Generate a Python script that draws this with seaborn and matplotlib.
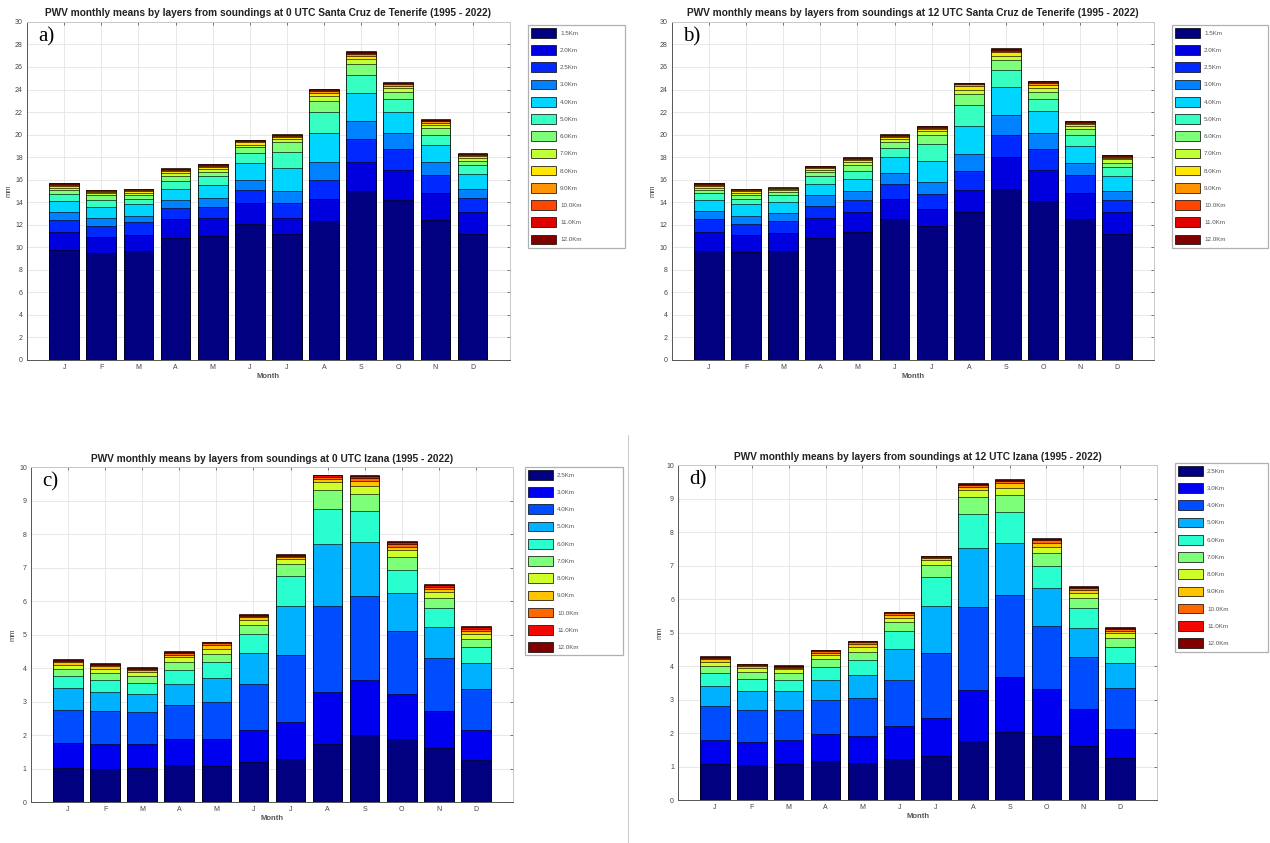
import numpy as np
import pandas as pd
import seaborn as sns
import matplotlib.pyplot as plt
from matplotlib.patches import Patch, Rectangle
from matplotlib.lines import Line2D

# month names (unique for the categorical axis) and the single-letter tick labels
month_names = ["Jan", "Feb", "Mar", "Apr", "May", "Jun",
               "Jul", "Aug", "Sep", "Oct", "Nov", "Dec"]
month_letters = ["J", "F", "M", "A", "M", "J", "J", "A", "S", "O", "N", "D"]

layers_sc = ["1.5Km", "2.0Km", "2.5Km", "3.0Km", "4.0Km", "5.0Km", "6.0Km",
             "7.0Km", "8.0Km", "9.0Km", "10.0Km", "11.0Km", "12.0Km"]
layers_iz = ["2.5Km", "3.0Km", "4.0Km", "5.0Km", "6.0Km", "7.0Km",
             "8.0Km", "9.0Km", "10.0Km", "11.0Km", "12.0Km"]

# cumulative PWV (mm) at the top of each layer, one row per month
tops_sc_00 = [
    [9.8, 11.4, 12.4, 13.1, 14.1, 14.7, 15.1, 15.3, 15.45, 15.55, 15.62, 15.67, 15.7],
    [9.5, 10.9, 11.9, 12.6, 13.6, 14.2, 14.6, 14.8, 14.9, 15.0, 15.05, 15.08, 15.1],
    [9.7, 11.1, 12.2, 12.8, 13.8, 14.3, 14.6, 14.85, 15.0, 15.08, 15.13, 15.17, 15.2],
    [10.8, 12.5, 13.5, 14.2, 15.2, 15.9, 16.3, 16.55, 16.75, 16.85, 16.92, 16.97, 17.0],
    [11.0, 12.6, 13.6, 14.4, 15.5, 16.3, 16.7, 16.95, 17.15, 17.25, 17.32, 17.37, 17.4],
    [12.1, 13.9, 15.1, 16.0, 17.5, 18.4, 18.9, 19.1, 19.3, 19.4, 19.47, 19.52, 19.55],
    [11.2, 12.6, 13.9, 15.0, 17.0, 18.5, 19.3, 19.6, 19.8, 19.9, 19.95, 20.0, 20.05],
    [12.3, 14.3, 16.0, 17.6, 20.1, 22.0, 23.0, 23.4, 23.7, 23.85, 23.95, 24.02, 24.08],
    [15.0, 17.6, 19.6, 21.2, 23.7, 25.3, 26.3, 26.7, 27.0, 27.15, 27.25, 27.32, 27.38],
    [14.2, 16.9, 18.7, 20.1, 22.0, 23.2, 23.8, 24.1, 24.35, 24.48, 24.56, 24.62, 24.67],
    [12.4, 14.8, 16.4, 17.6, 19.1, 20.0, 20.6, 20.85, 21.05, 21.17, 21.25, 21.3, 21.35],
    [11.2, 13.1, 14.4, 15.2, 16.5, 17.3, 17.7, 17.95, 18.1, 18.2, 18.27, 18.32, 18.35],
]
tops_sc_12 = [
    [9.7, 11.4, 12.5, 13.2, 14.2, 14.8, 15.1, 15.3, 15.45, 15.55, 15.62, 15.67, 15.7],
    [9.6, 11.1, 12.1, 12.8, 13.8, 14.3, 14.65, 14.85, 15.0, 15.08, 15.13, 15.17, 15.2],
    [9.7, 11.3, 12.3, 13.0, 14.0, 14.6, 14.95, 15.1, 15.2, 15.25, 15.28, 15.3, 15.32],
    [10.8, 12.6, 13.7, 14.6, 15.6, 16.3, 16.65, 16.85, 17.0, 17.1, 17.15, 17.2, 17.22],
    [11.4, 13.1, 14.2, 15.0, 16.1, 16.8, 17.3, 17.55, 17.75, 17.85, 17.9, 17.95, 17.98],
    [12.5, 14.3, 15.6, 16.6, 18.0, 18.8, 19.35, 19.6, 19.8, 19.9, 19.96, 20.0, 20.05],
    [11.9, 13.4, 14.7, 15.8, 17.7, 19.2, 20.0, 20.3, 20.5, 20.62, 20.7, 20.76, 20.8],
    [13.1, 15.1, 16.8, 18.3, 20.8, 22.6, 23.6, 24.0, 24.3, 24.45, 24.52, 24.58, 24.62],
    [15.2, 18.0, 20.0, 21.7, 24.2, 25.7, 26.6, 27.0, 27.3, 27.45, 27.55, 27.62, 27.68],
    [14.1, 16.9, 18.7, 20.1, 22.1, 23.2, 23.8, 24.15, 24.4, 24.55, 24.65, 24.72, 24.77],
    [12.5, 14.8, 16.4, 17.5, 19.0, 19.95, 20.5, 20.75, 20.95, 21.07, 21.14, 21.2, 21.24],
    [11.2, 13.1, 14.2, 15.0, 16.3, 17.1, 17.5, 17.8, 17.95, 18.05, 18.12, 18.17, 18.2],
]
tops_iz_00 = [
    [1.02, 1.75, 2.76, 3.41, 3.76, 3.98, 4.1, 4.17, 4.22, 4.25, 4.27],
    [1.0, 1.73, 2.72, 3.29, 3.66, 3.86, 3.98, 4.05, 4.1, 4.13, 4.15],
    [1.02, 1.74, 2.69, 3.22, 3.57, 3.76, 3.88, 3.94, 3.98, 4.01, 4.03],
    [1.1, 1.87, 2.9, 3.53, 3.95, 4.18, 4.32, 4.4, 4.45, 4.48, 4.5],
    [1.08, 1.88, 3.0, 3.71, 4.17, 4.42, 4.58, 4.68, 4.74, 4.77, 4.79],
    [1.2, 2.16, 3.54, 4.46, 5.01, 5.29, 5.43, 5.52, 5.57, 5.6, 5.62],
    [1.3, 2.4, 4.39, 5.87, 6.75, 7.1, 7.25, 7.31, 7.35, 7.38, 7.4],
    [1.72, 3.28, 5.85, 7.71, 8.76, 9.32, 9.55, 9.66, 9.72, 9.76, 9.78],
    [2.0, 3.64, 6.16, 7.76, 8.69, 9.2, 9.45, 9.6, 9.68, 9.73, 9.76],
    [1.88, 3.24, 5.12, 6.26, 6.92, 7.33, 7.52, 7.63, 7.71, 7.76, 7.8],
    [1.61, 2.72, 4.29, 5.22, 5.79, 6.1, 6.27, 6.37, 6.44, 6.49, 6.52],
    [1.26, 2.15, 3.39, 4.14, 4.62, 4.88, 5.03, 5.12, 5.18, 5.22, 5.25],
]
tops_iz_12 = [
    [1.07, 1.8, 2.81, 3.4, 3.79, 4.0, 4.13, 4.2, 4.24, 4.27, 4.29],
    [1.04, 1.74, 2.68, 3.26, 3.61, 3.81, 3.93, 3.99, 4.03, 4.05, 4.07],
    [1.07, 1.8, 2.7, 3.27, 3.6, 3.79, 3.9, 3.95, 3.98, 4.01, 4.03],
    [1.17, 1.97, 2.99, 3.6, 3.96, 4.2, 4.33, 4.4, 4.44, 4.47, 4.49],
    [1.1, 1.91, 3.04, 3.73, 4.18, 4.43, 4.57, 4.66, 4.71, 4.74, 4.76],
    [1.22, 2.2, 3.58, 4.5, 5.04, 5.32, 5.45, 5.53, 5.58, 5.61, 5.63],
    [1.31, 2.44, 4.38, 5.79, 6.67, 7.03, 7.16, 7.22, 7.26, 7.28, 7.3],
    [1.76, 3.28, 5.76, 7.52, 8.54, 9.05, 9.27, 9.36, 9.41, 9.44, 9.47],
    [2.03, 3.67, 6.12, 7.67, 8.6, 9.1, 9.33, 9.46, 9.53, 9.57, 9.6],
    [1.9, 3.31, 5.2, 6.33, 6.99, 7.38, 7.57, 7.68, 7.76, 7.8, 7.84],
    [1.61, 2.72, 4.27, 5.14, 5.73, 6.05, 6.2, 6.28, 6.34, 6.37, 6.4],
    [1.25, 2.12, 3.35, 4.09, 4.57, 4.84, 4.98, 5.06, 5.11, 5.14, 5.17],
]

sns.set_theme(style="white")
plt.rcParams["font.family"] = ["Liberation Sans", "DejaVu Sans"]

W, H = 1270, 843
fig = plt.figure(figsize=(W / 100, H / 100), dpi=100)

panels = [
    # tops, layers, title, ymax, ystep, axes rect, legend box (px: left, top, right, bottom), tag
    (tops_sc_00, layers_sc,
     "PWV monthly means by layers from soundings at 0 UTC Santa Cruz de Tenerife (1995 - 2022)",
     30, 2, [0.0213, 0.573, 0.380, 0.401], (528, 25, 625, 248), "a)"),
    (tops_sc_12, layers_sc,
     "PWV monthly means by layers from soundings at 12 UTC Santa Cruz de Tenerife (1995 - 2022)",
     30, 2, [0.529, 0.573, 0.380, 0.401], (1172, 25, 1268, 248), "b)"),
    (tops_iz_00, layers_iz,
     "PWV monthly means by layers from soundings at 0 UTC Izana (1995 - 2022)",
     10, 1, [0.0244, 0.0486, 0.3795, 0.397], (525, 467, 623, 655), "c)"),
    (tops_iz_12, layers_iz,
     "PWV monthly means by layers from soundings at 12 UTC Izana (1995 - 2022)",
     10, 1, [0.534, 0.051, 0.377, 0.397], (1175, 463, 1268, 652), "d)"),
]

for tops, layers, title, ymax, ystep, rect, lbox, tag in panels:
    ax = fig.add_axes(rect)
    tops = np.array(tops)
    colors = plt.cm.jet(np.linspace(0, 1, len(layers)))
    # draw the cumulative bars from the highest layer down so each lower layer sits on top
    for k in range(len(layers) - 1, -1, -1):
        df = pd.DataFrame({"month": month_names, "pwv": tops[:, k]})
        sns.barplot(data=df, x="month", y="pwv", color=colors[k], saturation=1,
                    edgecolor="black", linewidth=0.45, width=0.8, ax=ax)

    ax.set_xlim(-1, 12)
    ax.set_ylim(0, ymax)
    ax.set_xticks(range(12))
    ax.set_xticklabels(month_letters)
    ax.set_yticks(np.arange(0, ymax + 0.01, ystep))
    ax.set_axisbelow(True)
    ax.grid(True, axis="both", color="#e4e4e4", linewidth=0.6)
    ax.tick_params(axis="both", labelsize=5, colors="#444444", direction="in",
                   length=2.5, width=0.5, top=True, right=True, pad=3)
    for side in ["top", "right"]:
        ax.spines[side].set_color("#c8c8c8")
    for side in ["bottom", "left"]:
        ax.spines[side].set_color("#555555")
    for sp in ax.spines.values():
        sp.set_linewidth(0.7)

    ax.set_xlabel("Month", fontsize=5.5, fontweight="bold", color="#555555", labelpad=1)
    ax.set_ylabel("mm", fontsize=5.5, color="#444444", labelpad=2)
    ax.set_title(title, fontsize=7.3, fontweight="bold", color="#222222", pad=4)
    ax.text(0.023, 0.985, tag, transform=ax.transAxes, ha="left", va="top",
            fontsize=15, family=["Liberation Serif", "DejaVu Serif"], color="black")

    # legend frame drawn as its own box, entries placed inside it
    x0, y0, x1, y1 = lbox
    fig.add_artist(Rectangle((x0 / W, 1 - y1 / H), (x1 - x0) / W, (y1 - y0) / H,
                             transform=fig.transFigure, facecolor="white",
                             edgecolor="#b0b0b0", linewidth=0.9))
    handles = [Patch(facecolor=colors[k], edgecolor="black", linewidth=0.5, label=layers[k])
               for k in range(len(layers))]
    leg = fig.legend(handles=handles, loc="upper left",
                     bbox_to_anchor=((x0 + 3) / W, 1 - (y0 + 3) / H),
                     fontsize=4.5, handlelength=4.0, handleheight=2.0,
                     labelspacing=1.21, handletextpad=0.65, borderpad=0,
                     borderaxespad=0, frameon=False)
    for t in leg.get_texts():
        t.set_color("#555555")

# thin separator between the two lower panels
fig.add_artist(Line2D([0.4945, 0.4945], [0.0, 0.484], color="#cccccc", linewidth=0.8))

plt.savefig("out.png", dpi=100)
